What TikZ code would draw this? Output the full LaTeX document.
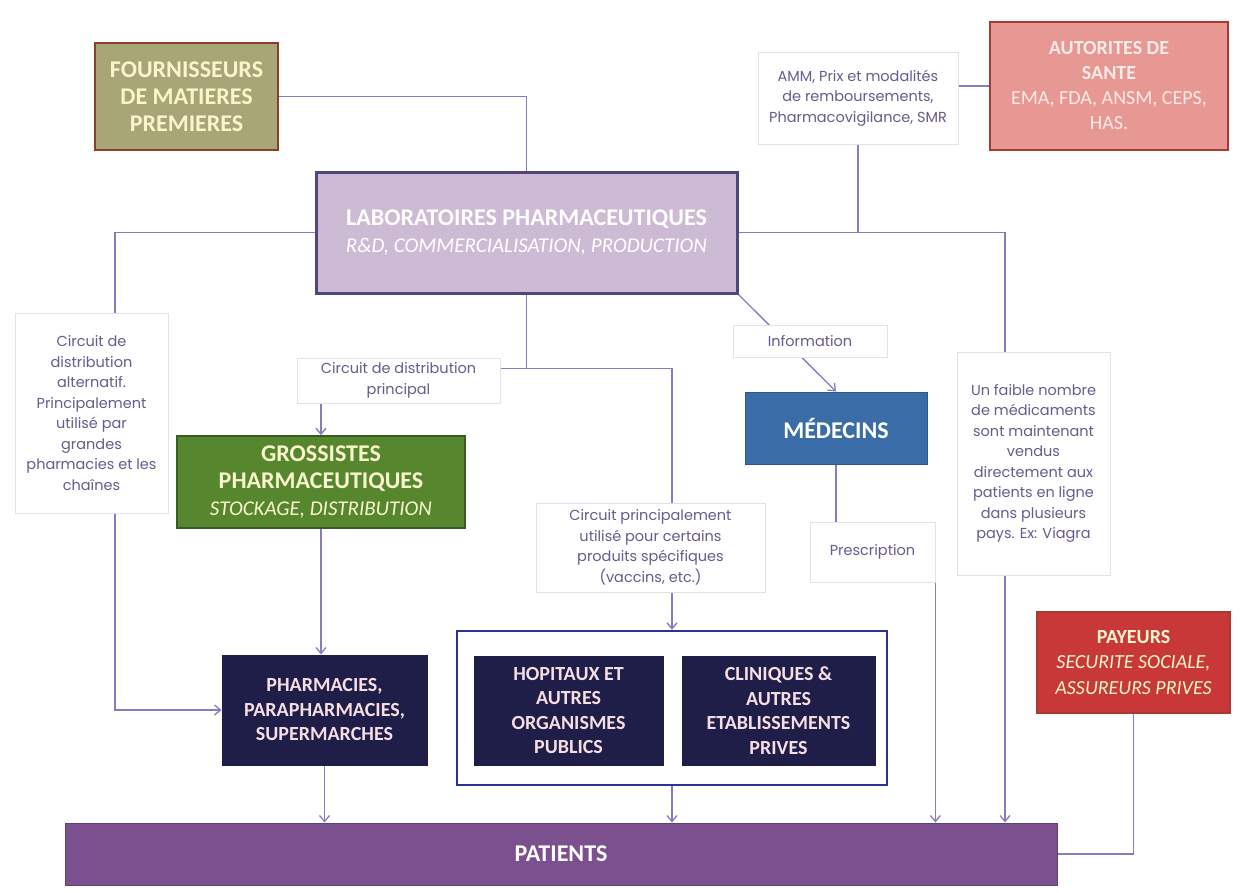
\documentclass[tikz,border=0pt]{standalone}
\usepackage{fontspec}
\setmainfont{Carlito}
\newfontfamily\notefont{Poppins}
\usepackage{tikz}
\usetikzlibrary{arrows.meta,backgrounds,calc}
\definecolor{linkcol}{RGB}{140,122,192}
\definecolor{notetext}{RGB}{105,90,140}
\definecolor{noteline}{RGB}{230,224,234}
\definecolor{olivefill}{RGB}{168,165,118}
\definecolor{brownline}{RGB}{140,62,48}
\definecolor{creamtext}{RGB}{250,245,205}
\definecolor{salmonfill}{RGB}{232,152,147}
\definecolor{redline}{RGB}{168,58,52}
\definecolor{lilacfill}{RGB}{205,186,212}
\definecolor{labline}{RGB}{78,72,122}
\definecolor{greenfill}{RGB}{86,134,46}
\definecolor{greenline}{RGB}{56,92,34}
\definecolor{navyfill}{RGB}{30,30,72}
\definecolor{navytext}{RGB}{246,222,228}
\definecolor{frameline}{RGB}{42,52,142}
\definecolor{medfill}{RGB}{58,108,168}
\definecolor{payfill}{RGB}{200,56,56}
\definecolor{patfill}{RGB}{124,80,142}
\newcommand{\subline}[1]{{\mdseries\itshape\fontsize{21}{27}\selectfont #1}}
\tikzstyle{box}=[
  rectangle,
  draw,
  line width=2.5pt,
  inner sep=2pt,
  align=center,
  font={\fontsize{24}{27}\selectfont\bfseries},
]
\tikzstyle{navybox}=[
  box,
  fill=navyfill,
  draw=navyfill,
  line width=1pt,
  text=navytext,
  font={\fontsize{20}{24.5}\selectfont\bfseries},
]
\tikzstyle{note}=[
  rectangle,
  draw=noteline,
  fill=white,
  line width=0.8pt,
  inner sep=2pt,
  align=center,
  text=notetext,
  font={\notefont\fontsize{14.5}{20.5}\selectfont},
]
\tikzstyle{link}=[
  color=linkcol,
  line width=1.3pt,
]
\tikzset{
  >={Straight Barb[length=6pt,width=10pt]},
}
\begin{document}
\begin{tikzpicture}[x=1pt, y=-1pt]
    \useasboundingbox (0,0) rectangle (1240,892);
    \node (fournisseurs) [box, fill=olivefill, draw=brownline, text=creamtext, minimum width=183, minimum height=107] at (186.5,96.5) {FOURNISSEURS\\DE MATIERES\\PREMIERES};
    \node (autorites) [box, fill=salmonfill, draw=redline, text=white!80!salmonfill, minimum width=238, minimum height=128, font={\fontsize{20}{25}\selectfont\bfseries}] at (1109,86) {AUTORITES DE\\SANTE\\{\mdseries EMA, FDA, ANSM, CEPS,}\\{\mdseries HAS.}};
    \node (amm) [note, minimum width=200, minimum height=92] at (858,98) {AMM, Prix et modalités\\de remboursements,\\Pharmacovigilance, SMR};
    \node (labo) [box, fill=lilacfill, draw=labline, line width=3pt, text=white, minimum width=421, minimum height=121] at (526.5,232.5) {LABORATOIRES PHARMACEUTIQUES\\\subline{R\&D, COMMERCIALISATION, PRODUCTION}};
    \node (alternatif) [note, minimum width=153, minimum height=200] at (91.5,413) {Circuit de\\distribution\\alternatif.\\Principalement\\utilisé par\\grandes\\pharmacies et les\\chaînes};
    \node (principal) [note, minimum width=203, minimum height=45] at (398.5,380.5) {Circuit de distribution\\principal};
    \node (grossistes) [box, fill=greenfill, draw=greenline, line width=1.5pt, text=creamtext, minimum width=288, minimum height=92] at (321,482) {GROSSISTES\\PHARMACEUTIQUES\\\subline{STOCKAGE, DISTRIBUTION}};
    \node (information) [note, minimum width=154, minimum height=32] at (810,341) {Information};
    \node (medecins) [box, fill=medfill, draw=medfill!80!black, line width=1pt, text=white, minimum width=182, minimum height=72] at (836,428) {MÉDECINS};
    \node (specifique) [note, minimum width=229, minimum height=89] at (650.5,547.5) {Circuit principalement\\utilisé pour certains\\produits spécifiques\\(vaccins, etc.)};
    \node (prescription) [note, minimum width=125, minimum height=60] at (872.5,552) {Prescription};
    \node (direct) [note, minimum width=153, minimum height=223] at (1033.5,463.5) {Un faible nombre\\de médicaments\\sont maintenant\\vendus\\directement aux\\patients en ligne\\dans plusieurs\\pays. Ex: Viagra};
    \node (payeurs) [box, fill=payfill, draw=redline, line width=1.5pt, text=creamtext, minimum width=193, minimum height=101, font={\fontsize{20}{25.5}\selectfont\bfseries}] at (1133.5,662.5) {PAYEURS\\{\mdseries\itshape SECURITE SOCIALE,}\\{\mdseries\itshape ASSUREURS PRIVES}};
    \node (pharmacies) [navybox, minimum width=205, minimum height=110] at (324.5,710) {PHARMACIES,\\PARAPHARMACIES,\\SUPERMARCHES};
    \node (etablissements) [draw=frameline, line width=2.5pt, minimum width=430, minimum height=154] at (672,708) {};
    \node (hopitaux) [navybox, minimum width=189, minimum height=109] at (568.5,710.5) {HOPITAUX ET\\AUTRES\\ORGANISMES\\PUBLICS};
    \node (cliniques) [navybox, minimum width=193, minimum height=109] at (778.5,710.5) {CLINIQUES \&\\AUTRES\\ETABLISSEMENTS\\PRIVES};
    \node (patients) [box, fill=patfill, draw=patfill!80!black, line width=1pt, text=white, minimum width=992, minimum height=62, font={\fontsize{24}{28}\selectfont\bfseries}] at (561,854) {PATIENTS};
    \coordinate (fork) at ($(labo.south)+(0,74)$);
    \coordinate (directin) at ([xshift=-28.5]direct.north);
    \begin{scope}[on background layer]
      \fill [white] (0,0) rectangle (1240,892);
      \draw [link] (fournisseurs.east) -| (labo.north);
      \draw [link] (amm.east |- autorites.west) -- (autorites.west);
      \draw [link] (amm.south) -- (amm.south |- labo.east);
      \draw [->, link] (labo.west) -| ([xshift=23.5]alternatif.south) |- (pharmacies.west);
      \draw [->, link] (labo.east) -| (directin |- patients.north);
      \draw [link] (labo.south) -- (fork) -| ([xshift=21.5]specifique.north);
      \draw [->, link] (fork) -| (grossistes.north);
      \draw [->, link] ([xshift=21.5]specifique.south) -- (etablissements.north);
      \draw [->, link] (grossistes.south) -- (grossistes.south |- pharmacies.north);
      \draw [->, link] (pharmacies.south) -- (pharmacies.south |- patients.north);
      \draw [->, link] (etablissements.south) -- (etablissements.south |- patients.north);
      \draw [->, link] (labo.south east) -- (medecins.north);
      \draw [link] (medecins.south) -- (medecins.south |- prescription.north);
      \draw [->, link] (prescription.south east) -- (prescription.south east |- patients.north);
      \draw [link] (payeurs.south) |- (patients.east);
    \end{scope}
  \end{tikzpicture}
\end{document}
